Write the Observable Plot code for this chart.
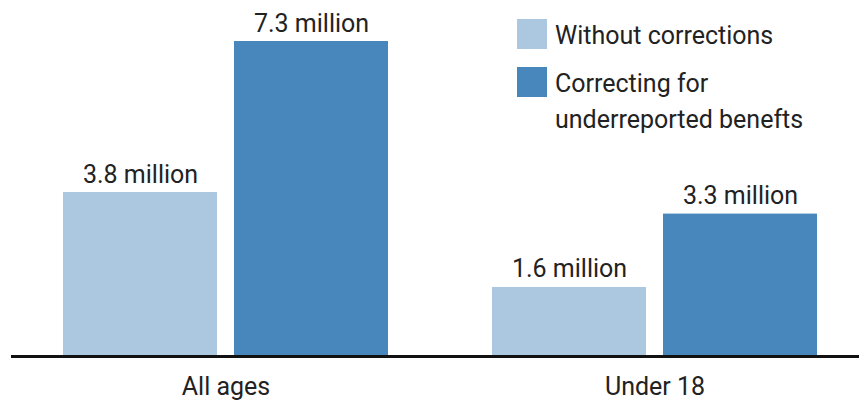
<!DOCTYPE html>
<html><head><meta charset="utf-8">
<script src="https://cdn.jsdelivr.net/npm/d3@7"></script>
<script src="https://cdn.jsdelivr.net/npm/@observablehq/plot@0.6"></script>
<style>
body{margin:0;background:#fff;font-family:Roboto, "Liberation Sans", sans-serif;overflow:hidden;}
#wrap{position:relative;width:859px;height:400px;overflow:hidden;}
#legend{position:absolute;left:517px;top:19px;font-size:25px;color:#222;}
.item{position:absolute;left:0;display:flex;align-items:flex-start;}
.sw{width:30px;height:30px;flex:none;margin-right:8px;}
.lab{line-height:36px;margin-top:-1.5px;width:300px;}
</style></head><body><div id="wrap"><div id="legend"></div></div>
<script>
const groups = ["All ages", "Under 18"];
const series = ["Without corrections", "Correcting for underreported benefts"];
const withoutCorrections = [3.8, 1.6];
const correcting = [7.3, 3.3];
const withoutLabels = ["3.8 million", "1.6 million"];
const correctingLabels = ["7.3 million", "3.3 million"];
const colors = ["#abc8e0", "#4887bb"];

const data = groups.flatMap((g, i) => [
  {group: g, series: series[0], value: withoutCorrections[i], label: withoutLabels[i]},
  {group: g, series: series[1], value: correcting[i], label: correctingLabels[i]}
]);

const chart = Plot.plot({
  width: 859, height: 400,
  marginLeft: 10, marginRight: -10, marginTop: 41, marginBottom: 44,
  fx: {domain: groups, padding: 0, label: null, axis: "bottom", tickSize: 0, tickPadding: 21},
  x: {domain: series, paddingInner: 0.1, paddingOuter: 0.3, align: 0.5, axis: null},
  y: {domain: [0, 7.3], axis: null},
  color: {domain: series, range: colors},
  style: {fontFamily: "Roboto, 'Liberation Sans', sans-serif", fontSize: "25px", color: "#222", background: "#fff", overflow: "hidden"},
  marks: [
    Plot.barY(data, {fx: "group", x: "series", y: "value", fill: "series"}),
    Plot.text(data, {fx: "group", x: "series", y: "value", text: "label", lineAnchor: "bottom", dy: -10, fontSize: 25, fill: "#222"}),
    Plot.ruleY([0], {stroke: "#111", strokeWidth: 2.8})
  ]
});
document.getElementById("wrap").prepend(chart);

const legend = document.getElementById("legend");
series.forEach((s, i) => {
  const item = document.createElement("div");
  item.className = "item";
  item.style.top = (i * 48) + "px";
  const sw = document.createElement("div");
  sw.className = "sw";
  sw.style.background = colors[i];
  const lab = document.createElement("div");
  lab.className = "lab";
  lab.textContent = s;
  if (i === 1) lab.style.width = "270px";
  item.append(sw, lab);
  legend.append(item);
});
</script></body></html>
